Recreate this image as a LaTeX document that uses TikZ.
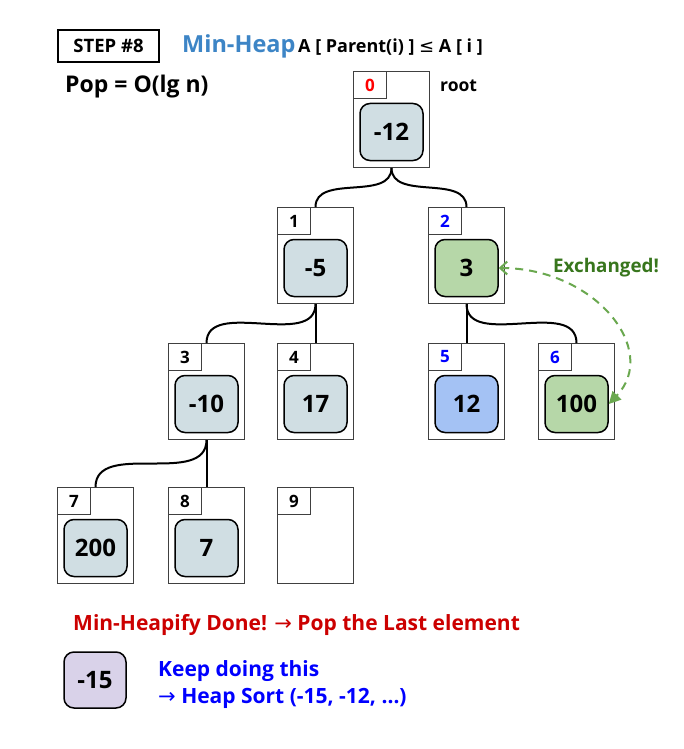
\documentclass[tikz,border=0pt]{standalone}
\usepackage{fontspec}
\setmainfont{Open Sans}
\newfontfamily\dv{DejaVu Sans}
\usetikzlibrary{arrows.meta}
\definecolor{valfill}{RGB}{208,222,227}
\definecolor{grnfill}{RGB}{182,215,168}
\definecolor{blufill}{RGB}{164,194,244}
\definecolor{purfill}{RGB}{217,210,233}
\definecolor{mhblue}{RGB}{61,133,198}
\definecolor{darkred}{RGB}{204,0,0}
\definecolor{exgreen}{RGB}{56,118,29}
\definecolor{arrgreen}{RGB}{106,168,79}
\tikzset{
  outerbox/.style={draw=black!75, line width=1pt, minimum width=76pt, minimum height=96pt, inner sep=0pt, anchor=north west},
  idxbox/.style={draw=black!75, line width=1pt, minimum width=33pt, minimum height=27pt, inner sep=0pt, anchor=north west, font=\bfseries\fontsize{17}{20}\selectfont},
  valbox/.style={draw=black, line width=1.5pt, rounded corners=10pt, minimum width=63pt, minimum height=57pt, inner sep=0pt, font=\bfseries\fontsize{24}{27}\selectfont},
  link/.style={line width=2pt, black},
}
\newcommand{\heapcell}[7]{%
  \node[outerbox] (c#1) at (#2,#3) {};
  \node[idxbox, text=#5] (i#1) at (c#1.north west) {#4};
  \ifx&#6&\else
  \node[valbox, fill=#7] (v#1) at ([yshift=-12.5pt]c#1.center) {#6};
  \fi
}
\begin{document}
\begin{tikzpicture}[x=1pt,y=-1pt]
\useasboundingbox (0,0) rectangle (684,749);
\fill[white] (0,0) rectangle (684,749);
% header
\node[draw=black, line width=1.2pt, minimum width=101pt, minimum height=32pt, inner sep=0pt, font=\bfseries\fontsize{18.5}{21}\selectfont] (step) at (108.5,46) {STEP \#8};
\node[anchor=base west, inner sep=0pt, font=\bfseries\fontsize{23.5}{26}\selectfont, text=mhblue] (title) at (182,53) {Min-Heap};
\node[anchor=base west, inner sep=0pt, font=\bfseries\fontsize{18}{21}\selectfont] (rule) at (298,53) {A [ Parent(i) ] {\dv\mdseries ≤} A [ i ]};
\node[anchor=base west, inner sep=0pt, font=\bfseries\fontsize{23}{26}\selectfont] (pop) at (65,93) {Pop = O(lg n)};
\node[anchor=base west, inner sep=0pt, font=\bfseries\fontsize{17.5}{20}\selectfont] (root) at (440,92) {root};
% cells
\heapcell{0}{353}{71}{0}{red}{-12}{valfill}
\heapcell{1}{277}{207}{1}{black}{-5}{valfill}
\heapcell{2}{428}{207}{2}{blue}{3}{grnfill}
\heapcell{3}{168}{343}{3}{black}{-10}{valfill}
\heapcell{4}{277}{343}{4}{black}{17}{valfill}
\heapcell{5}{428}{343}{5}{blue}{12}{blufill}
\heapcell{6}{538}{343}{6}{blue}{100}{grnfill}
\heapcell{7}{57}{487}{7}{black}{200}{valfill}
\heapcell{8}{168}{487}{8}{black}{7}{valfill}
\heapcell{9}{277}{487}{9}{black}{}{white}
% links
\draw[link] (c0.south) to[out=-90,in=90] (c1.north);
\draw[link] (c0.south) to[out=-90,in=90] (c2.north);
\draw[link] (c1.south) to[out=-90,in=90] (c3.north);
\draw[link] (c1.south) -- (c4.north);
\draw[link] (c2.south) -- (c5.north);
\draw[link] (c2.south) to[out=-90,in=90] (c6.north);
\draw[link] (c3.south) to[out=-90,in=90] (c7.north);
\draw[link] (c3.south) -- (c8.north);
% exchange arrow
\draw[arrgreen, line width=2pt, dash pattern=on 8pt off 6pt,
  {Straight Barb[length=7pt,width=13pt]}-{Triangle[length=12pt,width=12pt]}]
  (v2.east) .. controls (595,268) and (660,350) .. (v6.east);
\node[anchor=base west, inner sep=0pt, font=\bfseries\fontsize{18.8}{22}\selectfont, text=exgreen] (exch) at (553,272) {Exchanged!};
% bottom
\node[anchor=base west, inner sep=0pt, font=\bfseries\fontsize{21}{24}\selectfont, text=darkred] (done) at (73,630) {Min-Heapify Done! {\dv\mdseries →} Pop the Last element};
\node[valbox, fill=purfill, minimum width=62pt, minimum height=56pt] (popped) at (95,680) {-15};
\node[anchor=base west, inner sep=0pt, font=\bfseries\fontsize{21}{24}\selectfont, text=blue] (keep) at (158,676) {Keep doing this};
\node[anchor=base west, inner sep=0pt, font=\bfseries\fontsize{21}{24}\selectfont, text=blue] (sort) at (158,703) {{\dv\mdseries →} Heap Sort (-15, -12, …)};
\end{tikzpicture}
\end{document}
